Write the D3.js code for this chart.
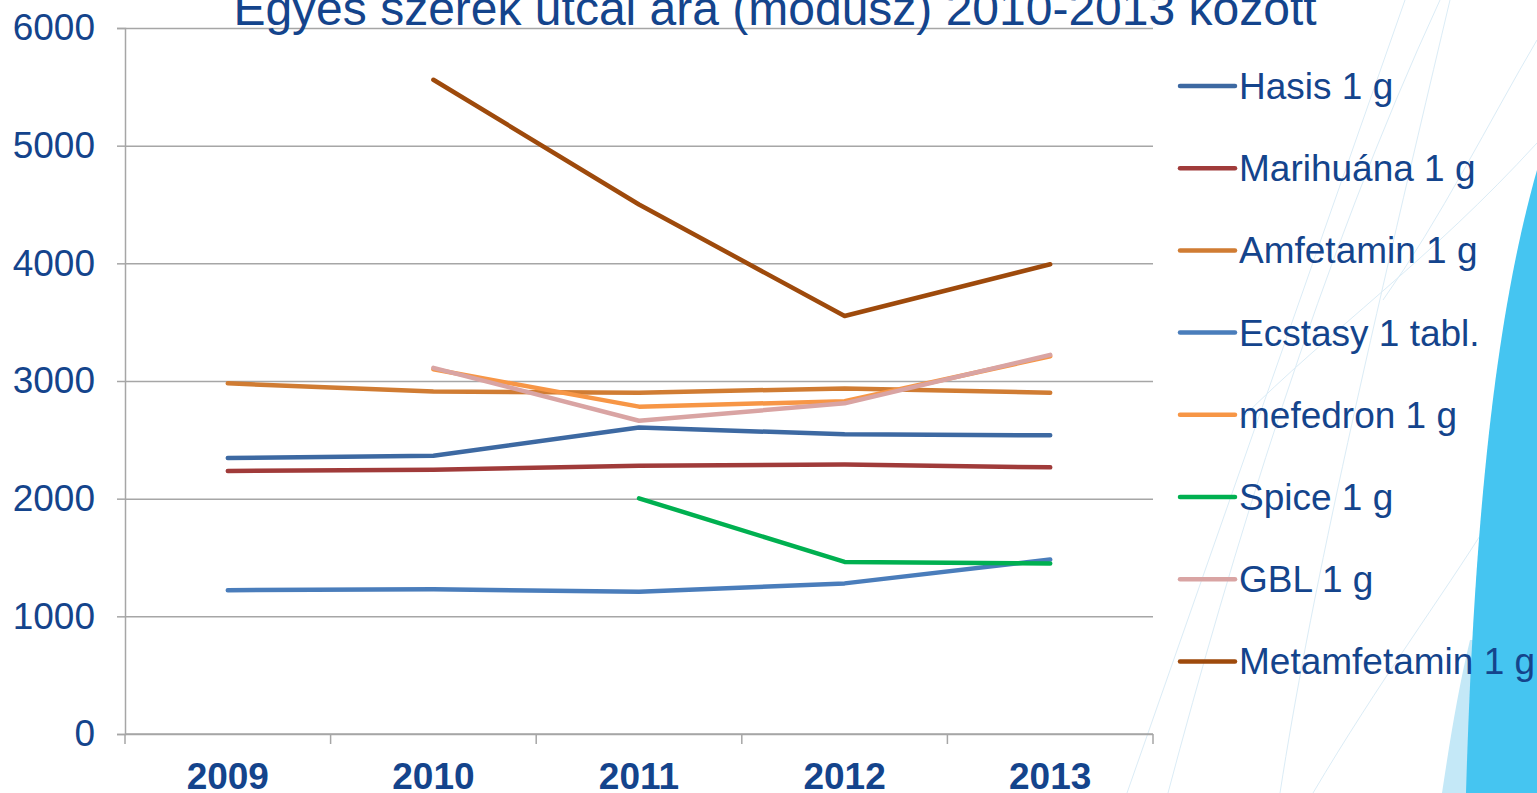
<!DOCTYPE html>
<html>
<head>
<meta charset="utf-8">
<script src="https://cdn.jsdelivr.net/npm/d3@7"></script>
<style>
  html, body { margin: 0; padding: 0; background: #fff; overflow: hidden; }
  svg { display: block; font-family: "Liberation Sans", Arial, sans-serif; }
</style>
</head>
<body>
<div id="chart"></div>
<script>
// adatok
const years = ["2009", "2010", "2011", "2012", "2013"];
const yTicks = [0, 1000, 2000, 3000, 4000, 5000, 6000];
const title = "Egyes szerek utcai ára (módusz) 2010-2013 között";

const seriesNames = ["Hasis 1 g", "Marihuána 1 g", "Amfetamin 1 g", "Ecstasy 1 tabl.",
  "mefedron 1 g", "Spice 1 g", "GBL 1 g", "Metamfetamin 1 g"];
const seriesColors = ["#3d69a2", "#a03b3a", "#d07c33", "#4a7dbb",
  "#f79646", "#00b050", "#d9a4a3", "#9e4a0c"];

const hasis = [2345, 2365, 2605, 2547, 2538];
const marihuana = [2235, 2245, 2280, 2290, 2266];
const amfetamin = [2980, 2910, 2900, 2937, 2900];
const ecstasy = [1222, 1230, 1208, 1280, 1483];
const mefedron = [null, 3100, 2782, 2828, 3210];
const spice = [null, null, 2003, 1462, 1450];
const gbl = [null, 3112, 2662, 2810, 3222];
const metamfetamin = [null, 5560, 4500, 3552, 3992];

const seriesValues = [hasis, marihuana, amfetamin, ecstasy, mefedron, spice, gbl, metamfetamin];

const W = 1537, H = 793;
const margin = { top: 28, right: 384, bottom: 59, left: 125 };
const width = W - margin.left - margin.right;
const height = H - margin.top - margin.bottom;
const textColor = "#14448c";
const gridColor = "#a6a6a6";

const svg = d3.select("#chart").append("svg")
  .attr("width", W)
  .attr("height", H);

// háttér díszítés
const deco = svg.append("g");
const decoLines = [
  "M1127,793 L1405,0", "M1168,793 C1230,560 1320,260 1440,0",
  "M1280,793 C1310,600 1360,380 1450,0", "M1313,793 C1380,680 1440,600 1490,520",
  "M1383,300 C1440,220 1490,120 1537,40", "M1240,420 C1330,330 1430,260 1537,143"
];
deco.selectAll("path.dl")
  .data(decoLines)
  .enter().append("path")
  .attr("class", "dl")
  .attr("d", d => d)
  .attr("fill", "none")
  .attr("stroke", "#dbecf6")
  .attr("stroke-width", 1);
deco.append("path")
  .attr("d", "M1468,793 L1442,793 C1450,740 1458,690 1470,640 L1474,640 C1470,700 1468,750 1468,793 Z")
  .attr("fill", "#c4e8f7");
deco.append("path")
  .attr("d", "M1537,170 C1506,280 1476,450 1466,793 L1537,793 Z")
  .attr("fill", "#45c5f1");

const g = svg.append("g")
  .attr("transform", `translate(${margin.left},${margin.top})`);

const x = d3.scaleBand().domain(years).range([0, width]).padding(0);
const y = d3.scaleLinear().domain([0, 6000]).range([height, 0]);
const cx = d => x(d) + x.bandwidth() / 2;

// rácsvonalak
g.append("g")
  .call(d3.axisLeft(y).tickValues(yTicks).tickSize(-width).tickFormat(""))
  .call(s => s.select(".domain").remove())
  .call(s => s.selectAll("line").attr("stroke", gridColor).attr("stroke-width", 1.5));

// y tengely
const yAxis = g.append("g")
  .call(d3.axisLeft(y).tickValues(yTicks).tickSize(8).tickPadding(22).tickFormat(d3.format("d")));
yAxis.select(".domain").attr("stroke", gridColor).attr("stroke-width", 1.5);
yAxis.selectAll("line").attr("stroke", gridColor).attr("stroke-width", 1.5);
yAxis.selectAll("text")
  .attr("fill", textColor)
  .attr("font-size", 37)
  .attr("font-family", "Liberation Sans, Arial, sans-serif");

// x tengely
const xAxis = g.append("g").attr("transform", `translate(0,${height})`);
xAxis.append("line")
  .attr("x1", 0).attr("x2", width)
  .attr("stroke", gridColor).attr("stroke-width", 1.5);
const edges = years.map(d => x(d)).concat([x(years[years.length - 1]) + x.bandwidth()]);
xAxis.selectAll("line.tk")
  .data(edges)
  .enter().append("line")
  .attr("class", "tk")
  .attr("x1", d => d).attr("x2", d => d)
  .attr("y1", 0).attr("y2", 10)
  .attr("stroke", gridColor).attr("stroke-width", 1.5);
xAxis.selectAll("text")
  .data(years)
  .enter().append("text")
  .attr("x", d => cx(d))
  .attr("y", 55)
  .attr("text-anchor", "middle")
  .attr("font-size", 37)
  .attr("font-weight", "bold")
  .attr("fill", textColor)
  .text(d => d);

// vonalak
const line = d3.line()
  .defined(d => d != null)
  .x((d, i) => cx(years[i]))
  .y(d => y(d));

g.selectAll("path.series")
  .data(seriesValues)
  .enter().append("path")
  .attr("class", "series")
  .attr("d", d => line(d))
  .attr("fill", "none")
  .attr("stroke", (d, i) => seriesColors[i])
  .attr("stroke-width", 4.5)
  .attr("stroke-linejoin", "round")
  .attr("stroke-linecap", "round");

// cím
svg.append("text")
  .attr("x", 775)
  .attr("y", 25)
  .attr("text-anchor", "middle")
  .attr("font-size", 48)
  .attr("fill", textColor)
  .text(title);

// jelmagyarázat
const legend = svg.append("g").attr("transform", "translate(1180,86)");
const item = legend.selectAll("g")
  .data(seriesNames)
  .enter().append("g")
  .attr("transform", (d, i) => `translate(0,${i * 82.2})`);
item.append("line")
  .attr("x1", 0).attr("x2", 55)
  .attr("stroke", (d, i) => seriesColors[i])
  .attr("stroke-width", 4.5)
  .attr("stroke-linecap", "round");
item.append("text")
  .attr("x", 59)
  .attr("y", 0)
  .attr("dy", "0.35em")
  .attr("font-size", 37)
  .attr("fill", textColor)
  .text(d => d);
</script>
</body>
</html>
